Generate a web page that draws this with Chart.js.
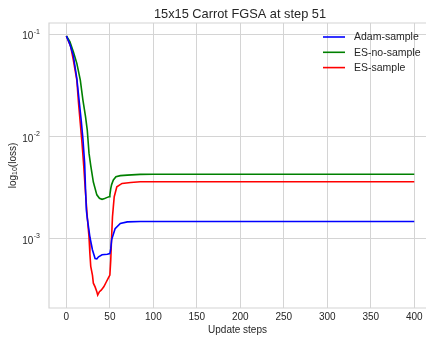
<!DOCTYPE html>
<html>
<head>
<meta charset="utf-8">
<script src="https://cdn.jsdelivr.net/npm/chart.js@4.4.0/dist/chart.umd.min.js"></script>
<style>
html, body { margin: 0; padding: 0; overflow: hidden; background: #fff; }
</style>
</head>
<body>
<canvas id="chart" width="426" height="337"></canvas>
<script>
const chartTitle = '15x15 Carrot FGSA at step 51';
const xLabel = 'Update steps';
const yLabelParts = ['log', '10', '(loss)'];
const xTicks = [0, 50, 100, 150, 200, 250, 300, 350, 400];
const yTicks = [1e-3, 1e-2, 1e-1];
const yTickExps = ['-3', '-2', '-1'];

const adamSteps = [0, 4, 8, 12, 15, 17, 19, 21, 22, 23, 24, 27, 30, 33, 35, 37, 41, 47, 50, 51, 52, 54, 56, 62, 70, 85, 100, 150, 200, 250, 300, 350, 400];
const adamLoss = [0.0962, 0.080, 0.062, 0.037, 0.021, 0.0145, 0.0095, 0.0055, 0.0031, 0.0019, 0.0016, 0.00105, 0.00078, 0.000645, 0.00064, 0.00067, 0.00070, 0.00071, 0.00072, 0.00080, 0.00098, 0.00111, 0.00126, 0.00142, 0.00147, 0.00148, 0.00148, 0.00148, 0.00148, 0.00148, 0.00148, 0.00148, 0.00148];

const esNoSteps = [0, 4, 8, 12, 16, 19, 22, 24, 26, 28, 31, 35, 38, 41, 44, 47, 49, 50, 51, 52, 54, 57, 62, 70, 85, 100, 150, 200, 250, 300, 350, 400];
const esNoLoss = [0.0962, 0.0847, 0.0676, 0.052, 0.0357, 0.0228, 0.0157, 0.0116, 0.0069, 0.0052, 0.0036, 0.0027, 0.00250, 0.00244, 0.00249, 0.00255, 0.00259, 0.0027, 0.0031, 0.0034, 0.00377, 0.00406, 0.00416, 0.00421, 0.00428, 0.00429, 0.00429, 0.00429, 0.00429, 0.00429, 0.00429, 0.00429];

const esSteps = [0, 5, 8, 12, 14, 16, 18, 20, 22, 24, 26, 27, 28, 30, 31, 33, 35, 36, 38, 40, 43, 46, 48, 50, 51, 52, 53, 54, 55, 58, 64, 74, 85, 100, 150, 200, 250, 300, 350, 400];
const esLoss = [0.0962, 0.0757, 0.0561, 0.0357, 0.0211, 0.0135, 0.0086, 0.0051, 0.0028, 0.00165, 0.00105, 0.00072, 0.00054, 0.00044, 0.00037, 0.00034, 0.000305, 0.000283, 0.000305, 0.000316, 0.000341, 0.000382, 0.000412, 0.000444, 0.00062, 0.00105, 0.00165, 0.00207, 0.00259, 0.00324, 0.00349, 0.00357, 0.00362, 0.00363, 0.00363, 0.00363, 0.00363, 0.00363, 0.00363, 0.00363];

const textColor = '#262626';
const gridColor = '#d4d4d4';
const fontFamily = '"Liberation Sans", Arial, "DejaVu Sans", sans-serif';

const toPoints = (xs, ys) => xs.map((x, i) => ({ x: x, y: ys[i] }));

function series(label, color, xs, ys) {
    return {
        label: label,
        data: toPoints(xs, ys),
        borderColor: color,
        backgroundColor: color,
        borderWidth: 1.6,
        pointRadius: 0,
        tension: 0,
        fill: false
    };
}

// matplotlib-like frame, title, log tick labels, y label and legend
const framePlugin = {
    id: 'frame',
    afterDraw(chart) {
        const { ctx, chartArea: ca } = chart;
        ctx.save();
        ctx.strokeStyle = gridColor;
        ctx.lineWidth = 1.2;
        ctx.beginPath();
        ctx.moveTo(chart.width + 5, ca.top);
        ctx.lineTo(ca.left, ca.top);
        ctx.lineTo(ca.left, ca.bottom);
        ctx.lineTo(chart.width + 5, ca.bottom);
        ctx.stroke();

        // the axes run past the right edge, so the title sits right of the canvas centre
        ctx.fillStyle = textColor;
        ctx.font = '12.8px ' + fontFamily;
        ctx.textAlign = 'center';
        ctx.textBaseline = 'alphabetic';
        ctx.fillText(chartTitle, 240, 18);

        // y tick labels 10^n
        const ys = chart.scales.y;
        ctx.textAlign = 'left';
        yTicks.forEach((v, i) => {
            const py = ys.getPixelForValue(v);
            ctx.font = '7px ' + fontFamily;
            const ew = ctx.measureText(yTickExps[i]).width;
            ctx.font = '10px ' + fontFamily;
            const bw = ctx.measureText('10').width;
            const x0 = 40 - ew - bw - 0.5;
            ctx.fillText('10', x0, py + 5);
            ctx.font = '7px ' + fontFamily;
            ctx.fillText(yTickExps[i], x0 + bw + 0.5, py - 0.8);
        });

        // y axis label with subscript
        ctx.save();
        ctx.translate(13, (ca.top + ca.bottom) / 2);
        ctx.rotate(-Math.PI / 2);
        ctx.font = '10px ' + fontFamily;
        const w0 = ctx.measureText(yLabelParts[0]).width;
        const w2 = ctx.measureText(yLabelParts[2]).width;
        ctx.font = '7px ' + fontFamily;
        const w1 = ctx.measureText(yLabelParts[1]).width;
        let x = -(w0 + w1 + w2) / 2;
        ctx.textBaseline = 'middle';
        ctx.font = '10px ' + fontFamily;
        ctx.fillText(yLabelParts[0], x, 0);
        x += w0;
        ctx.font = '7px ' + fontFamily;
        ctx.fillText(yLabelParts[1], x, 2.5);
        x += w1;
        ctx.font = '10px ' + fontFamily;
        ctx.fillText(yLabelParts[2], x, 0);
        ctx.restore();

        // legend
        const lx = 323, tx = 354;
        ctx.font = '10.5px ' + fontFamily;
        ctx.textAlign = 'left';
        ctx.textBaseline = 'middle';
        chart.data.datasets.forEach((ds, i) => {
            const y = 37 + i * 15.3;
            ctx.strokeStyle = ds.borderColor;
            ctx.lineWidth = 1.6;
            ctx.beginPath();
            ctx.moveTo(lx, y);
            ctx.lineTo(lx + 22, y);
            ctx.stroke();
            ctx.fillStyle = textColor;
            ctx.fillText(ds.label, tx, y + 0.5);
        });
        ctx.restore();
    }
};

new Chart(document.getElementById('chart'), {
    type: 'line',
    data: {
        datasets: [
            series('Adam-sample', '#0000ff', adamSteps, adamLoss),
            series('ES-no-sample', '#008000', esNoSteps, esNoLoss),
            series('ES-sample', '#ff0000', esSteps, esLoss)
        ]
    },
    plugins: [framePlugin],
    options: {
        responsive: false,
        animation: false,
        layout: { padding: { left: 0, right: 0, top: 23, bottom: 0 } },
        plugins: { legend: { display: false }, title: { display: false }, tooltip: { enabled: false } },
        scales: {
            x: {
                type: 'linear',
                min: -20, max: 413.5,
                afterBuildTicks: s => { s.ticks = xTicks.map(v => ({ value: v })); },
                afterFit: s => { s.height = 29; },
                grid: { color: gridColor, lineWidth: 1, drawTicks: false },
                border: { display: false },
                ticks: { color: textColor, font: { family: fontFamily, size: 10 }, padding: 3, maxRotation: 0 },
                title: { display: true, text: xLabel, color: textColor, font: { family: fontFamily, size: 10 }, padding: { top: 0, bottom: 1 } }
            },
            y: {
                type: 'logarithmic',
                min: 2.116e-4, max: 0.129,
                afterBuildTicks: s => { s.ticks = yTicks.map(v => ({ value: v })); },
                afterFit: s => { s.width = 49; },
                grid: { color: gridColor, lineWidth: 1, drawTicks: false },
                border: { display: false },
                ticks: { display: false }
            }
        }
    }
});
</script>
</body>
</html>
